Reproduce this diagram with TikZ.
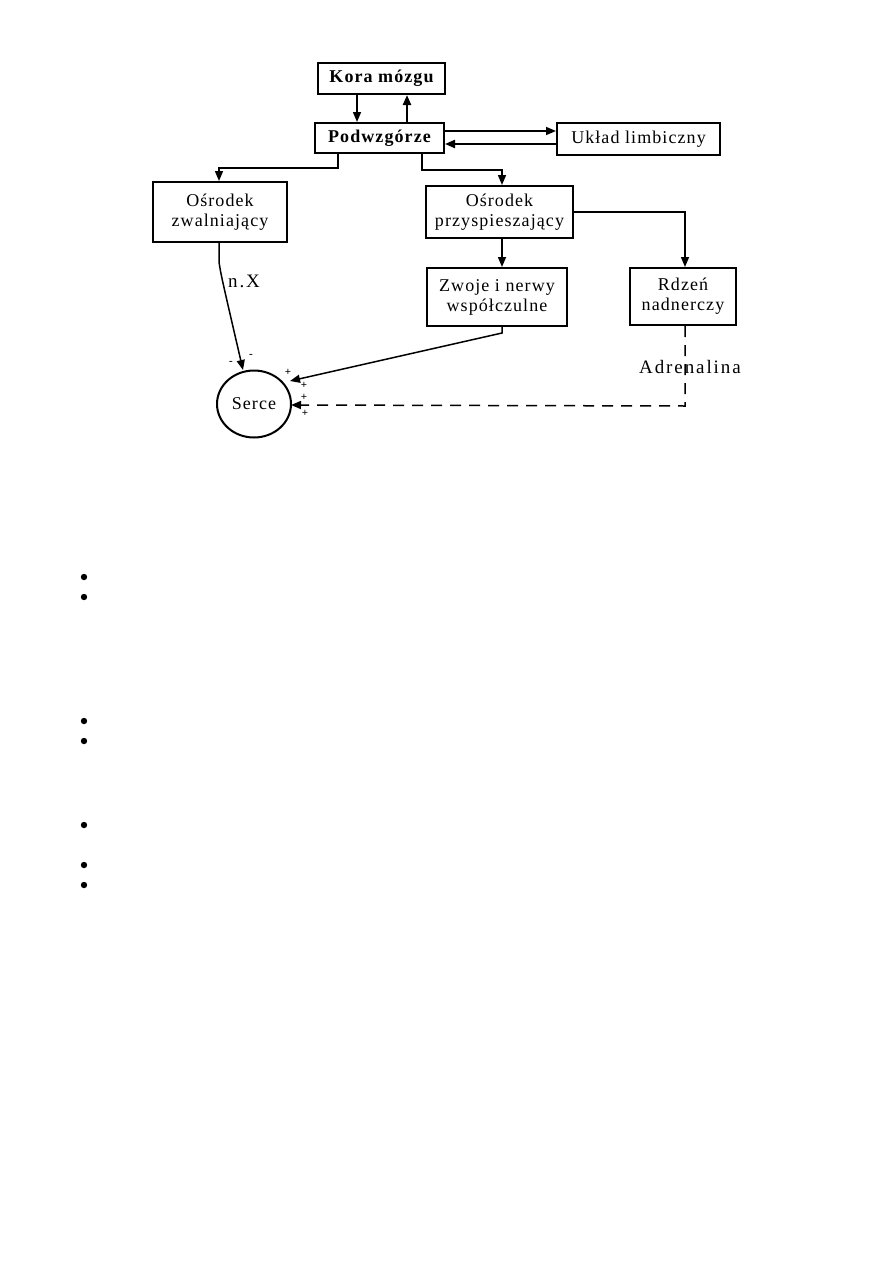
\documentclass[tikz,border=0pt]{standalone}
\usepackage{fontspec}
\setmainfont{Liberation Serif}[LetterSpace=6]
\usetikzlibrary{arrows.meta,shapes.geometric}
\begin{document}
\begin{tikzpicture}[x=1pt,y=-1pt,
  box/.style={draw,line width=2pt,inner sep=0pt,align=center,font=\fontsize{18}{20}\selectfont},
  conn/.style={line width=1.5pt},
  arr/.style={conn,-{Triangle[length=10pt,width=8pt]}},
  dashline/.style={line width=1.5pt,dash pattern=on 11pt off 8pt},
  lbl/.style={font=\fontsize{19}{20}\selectfont\addfontfeatures{LetterSpace=10},inner sep=0pt},
  sgn/.style={font=\bfseries\fontsize{11}{12}\selectfont,inner sep=0pt}]
\useasboundingbox (0,0) rectangle (893,1263);
% nodes
\node[box,minimum width=127,minimum height=31,font=\bfseries\fontsize{18}{20}\selectfont] (kora) at (381.5,78.5) {Kora mózgu};
\node[box,minimum width=129,minimum height=30,font=\bfseries\fontsize{18}{20}\selectfont] (podw) at (379.5,138) {Podwzgórze};
\node[box,minimum width=163,minimum height=32] (uklad) at (638.5,139) {Układ limbiczny};
\node[box,minimum width=134,minimum height=60] (zwal) at (220,212) {Ośrodek\\zwalniający};
\node[box,minimum width=147,minimum height=52] (przy) at (499.5,212) {Ośrodek\\przyspieszający};
\node[box,minimum width=140,minimum height=58] (zwoje) at (497,297) {Zwoje i nerwy\\współczulne};
\node[box,minimum width=106,minimum height=57] (rdzen) at (683,296.5) {Rdzeń\\nadnerczy};
\node[ellipse,draw,line width=2pt,minimum width=74,minimum height=67,inner sep=0pt,font=\fontsize{18}{20}\selectfont] (serce) at (254,404) {Serce};
% helper coordinates
\coordinate (c357) at (357,0);
\coordinate (c407) at (407,0);
\coordinate (c338) at (338,168);
\coordinate (c219) at (219,168);
\coordinate (c422) at (422,170);
\coordinate (c502) at (502,170);
\coordinate (c685) at (685,212);
\coordinate (r131) at (0,131);
\coordinate (r144) at (0,144);
\coordinate (zb) at (502,333);
\coordinate (xb) at (219,262);
\coordinate (rd) at (685,406);
\coordinate (sin1) at (290,381);
\coordinate (stop) at (243,370);
\coordinate (sright) at (291,405);
% connectors
\draw[arr] (kora.south -| c357) -- (podw.north -| c357);
\draw[conn,line width=2.2pt,-{Triangle[length=10pt,width=8pt]}] (podw.north -| c407) -- (kora.south -| c407);
\draw[arr] (podw.east |- r131) -- (uklad.west |- r131);
\draw[conn,line width=2pt,-{Triangle[length=10pt,width=8pt]}] (uklad.west |- r144) -- (podw.east |- r144);
\draw[arr] (podw.south -| c338) -- (c338) -- (c219) -- (zwal.north -| c219);
\draw[arr] (podw.south -| c422) -- (c422) -- (c502) -- (przy.north -| c502);
\draw[arr] (przy.east |- c685) -- (c685) -- (rdzen.north -| c685);
\draw[arr] (przy.south -| c502) -- (zwoje.north -| c502);
\draw[arr] (zwoje.south -| zb) -- (zb) -- (sin1);
\draw[arr] (zwal.south -| xb) -- (xb) .. controls (221,275) .. (stop);
\draw[dashline,-{Triangle[length=10pt,width=8pt]}] (rdzen.south -| rd) -- (rd) -- (sright);
% labels
\node[lbl,anchor=west] (nx) at (228,281) {n.X};
\node[lbl,anchor=west] (adr) at (639,367) {Adrenalina};
\node[sgn] (m1) at (231,363) {-};
\node[sgn] (m2) at (251,356) {-};
\node[sgn] (p1) at (288,372) {+};
\node[sgn] (p2) at (304,385) {+};
\node[sgn] (p3) at (304,397) {+};
\node[sgn] (p4) at (305,413) {+};
% bullets
\foreach \yy in {577,597,721,741,825,865,885}
  \fill (84,\yy) circle (3.2);
\end{tikzpicture}
\end{document}
